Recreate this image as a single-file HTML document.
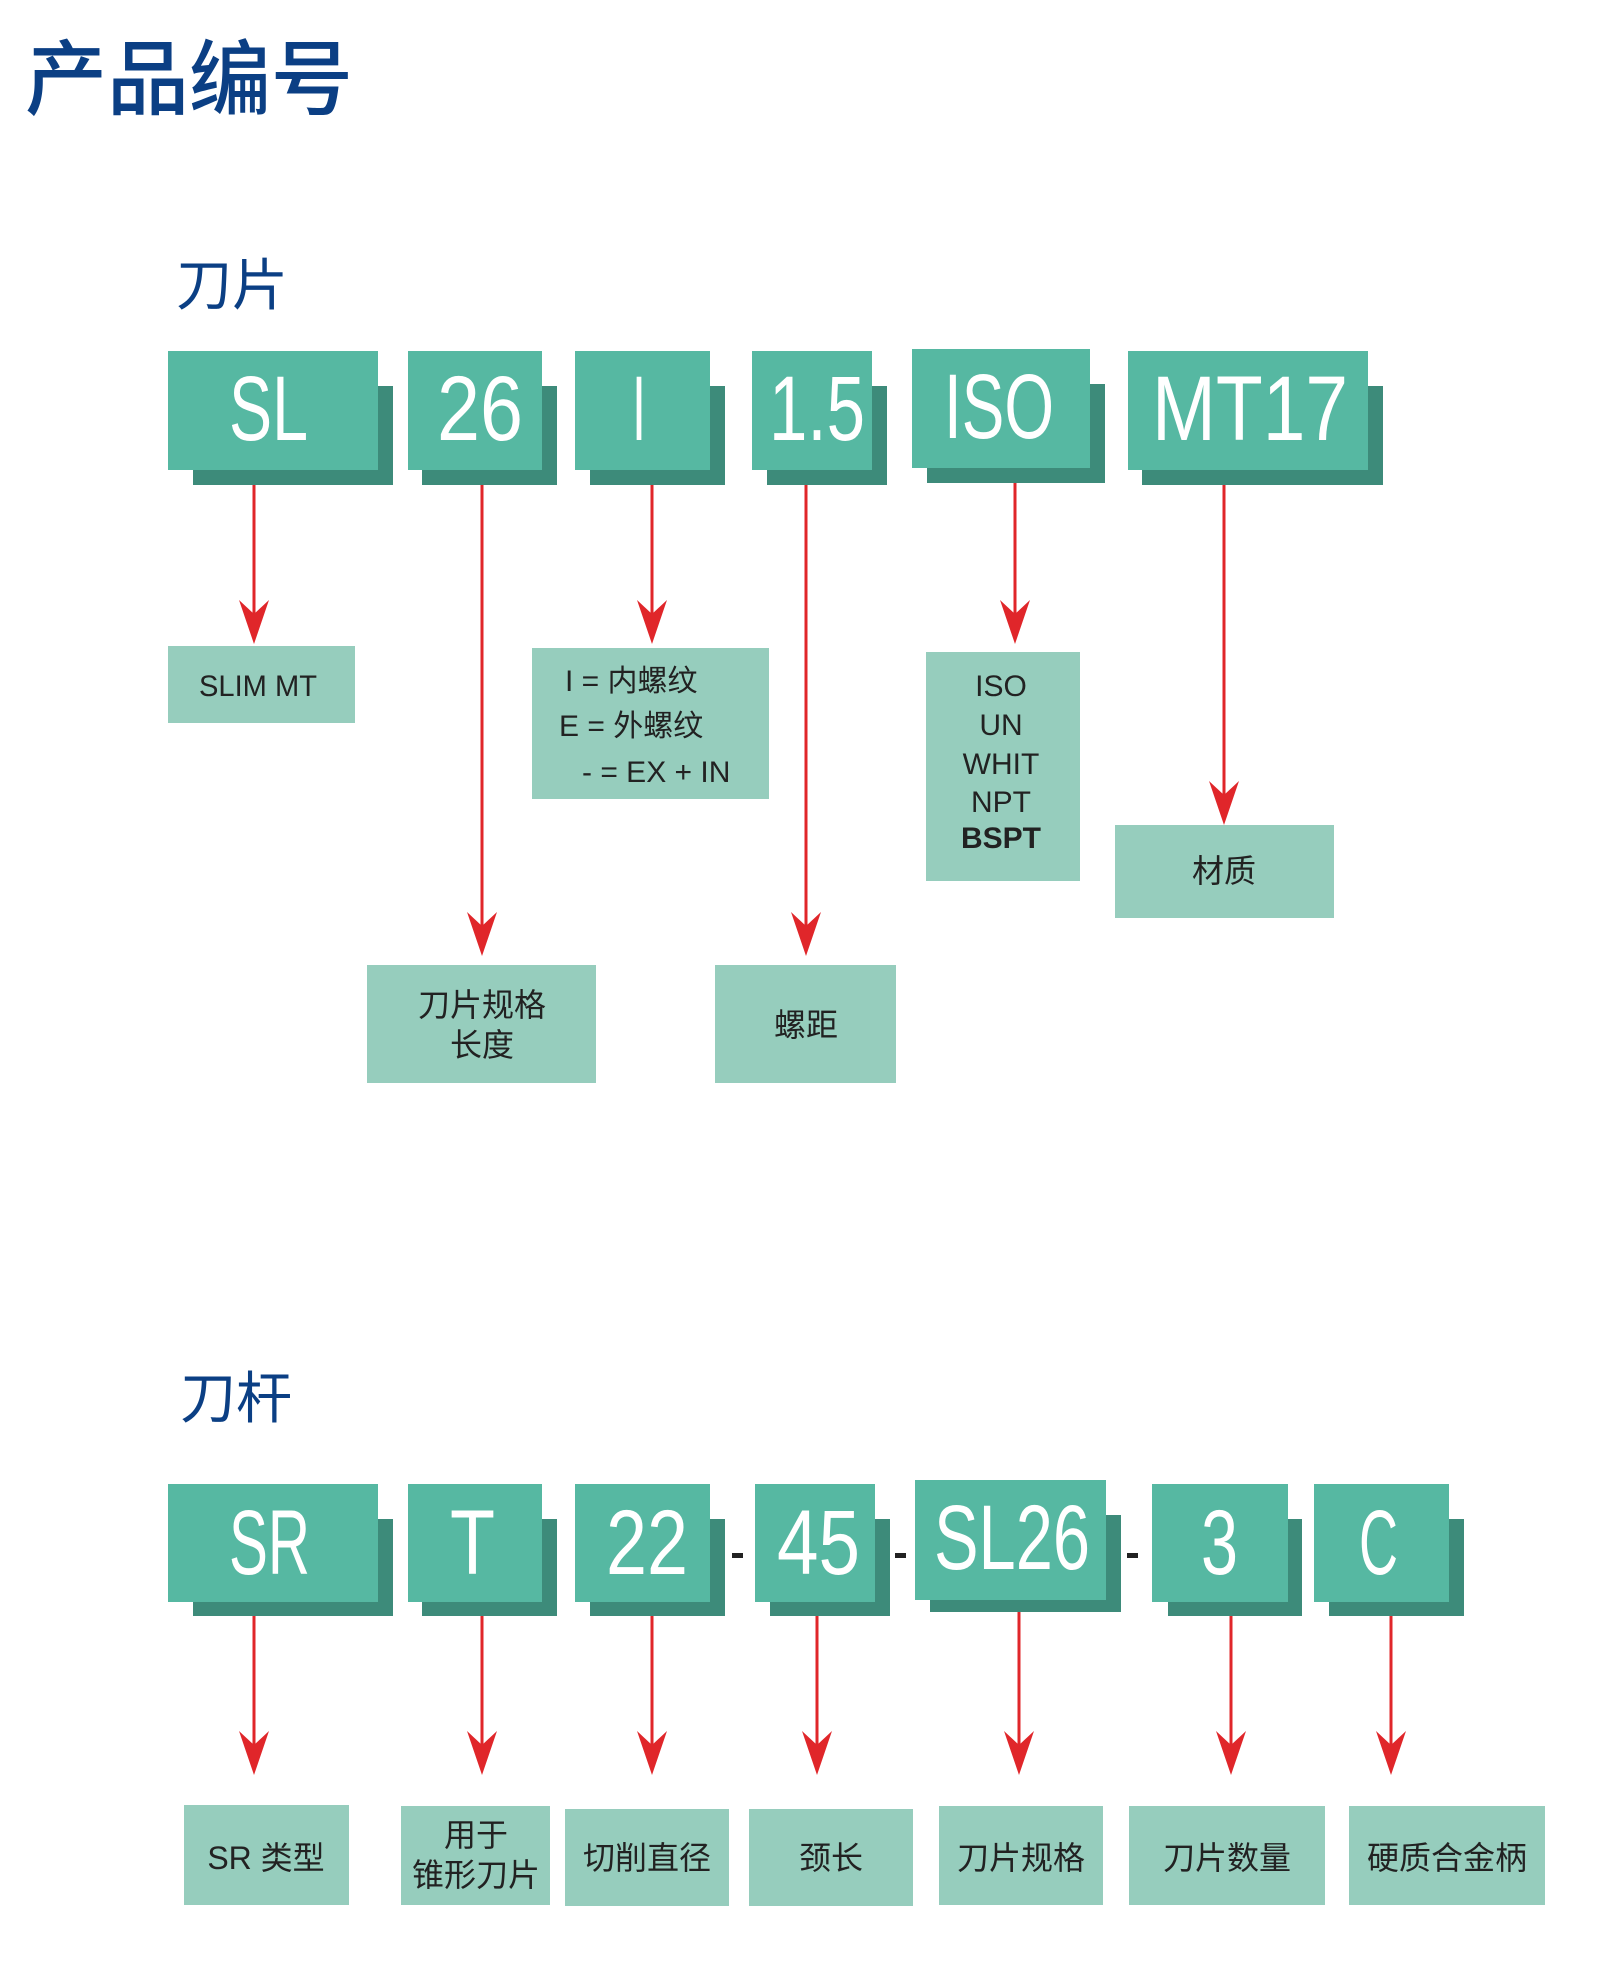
<!DOCTYPE html>
<html><head><meta charset="utf-8"><style>
html,body{margin:0;padding:0;background:#fff;}
svg{display:block}
.t{font-family:"Liberation Sans","Noto Sans CJK SC",sans-serif;}
.big{fill:#fff;font-size:92px;}
.lb{fill:#222;font-size:30px;}
.cn{fill:#222;font-size:32px;}
</style></head><body>
<svg width="1600" height="1963" viewBox="0 0 1600 1963" xmlns="http://www.w3.org/2000/svg" class="t">
<text x="25" y="108" font-size="82" fill="#0b3f84" font-family="Noto Sans CJK SC,sans-serif" font-weight="500">产品编号</text>
<text x="176" y="305" font-size="56" fill="#0b3f84" font-family="Noto Sans CJK SC,sans-serif">刀片</text>
<text x="180" y="1418" font-size="56" fill="#0b3f84" font-family="Noto Sans CJK SC,sans-serif">刀杆</text>

<g fill="#3d8b7a">
<rect x="193" y="386" width="200" height="99"/>
<rect x="422" y="386" width="135" height="99"/>
<rect x="590" y="386" width="135" height="99"/>
<rect x="767" y="386" width="120" height="99"/>
<rect x="927" y="384" width="178" height="99"/>
<rect x="1142" y="386" width="241" height="99"/>
<rect x="193" y="1519" width="200" height="97"/>
<rect x="422" y="1519" width="135" height="97"/>
<rect x="590" y="1519" width="135" height="97"/>
<rect x="770" y="1519" width="120" height="97"/>
<rect x="930" y="1515" width="191" height="97"/>
<rect x="1168" y="1519" width="134" height="97"/>
<rect x="1329" y="1519" width="135" height="97"/>
</g>
<g fill="#56b8a2">
<rect x="168" y="351" width="210" height="119"/>
<rect x="408" y="351" width="134" height="119"/>
<rect x="575" y="351" width="135" height="119"/>
<rect x="752" y="351" width="120" height="119"/>
<rect x="912" y="349" width="178" height="119"/>
<rect x="1128" y="351" width="240" height="119"/>
<rect x="168" y="1484" width="210" height="118"/>
<rect x="408" y="1484" width="134" height="118"/>
<rect x="575" y="1484" width="135" height="118"/>
<rect x="755" y="1484" width="120" height="118"/>
<rect x="915" y="1480" width="191" height="120"/>
<rect x="1152" y="1484" width="136" height="118"/>
<rect x="1314" y="1484" width="135" height="118"/>
</g>
<g class="big">
<text x="229" y="440" textLength="79" lengthAdjust="spacingAndGlyphs">SL</text>
<text x="437" y="440" textLength="86" lengthAdjust="spacingAndGlyphs">26</text>
<text x="632" y="440" textLength="14" lengthAdjust="spacingAndGlyphs">I</text>
<text x="769" y="440" textLength="96" lengthAdjust="spacingAndGlyphs">1.5</text>
<text x="944" y="438" textLength="110" lengthAdjust="spacingAndGlyphs">ISO</text>
<text x="1152" y="440" textLength="196" lengthAdjust="spacingAndGlyphs">MT17</text>
<text x="229" y="1574" textLength="81" lengthAdjust="spacingAndGlyphs">SR</text>
<text x="450" y="1574" textLength="45" lengthAdjust="spacingAndGlyphs">T</text>
<text x="606" y="1574" textLength="82" lengthAdjust="spacingAndGlyphs">22</text>
<text x="777" y="1574" textLength="83" lengthAdjust="spacingAndGlyphs">45</text>
<text x="934" y="1569" textLength="156" lengthAdjust="spacingAndGlyphs">SL26</text>
<text x="1201" y="1574" textLength="37" lengthAdjust="spacingAndGlyphs">3</text>
<text x="1359" y="1574" textLength="39" lengthAdjust="spacingAndGlyphs">C</text>
</g>
<g fill="#222">
<rect x="732" y="1553" width="11" height="5"/>
<rect x="895" y="1553" width="11" height="5"/>
<rect x="1127" y="1553" width="11" height="5"/>
</g>

<g stroke="#e0262a" stroke-width="3">
<line x1="254" y1="485" x2="254" y2="620"/>
<line x1="482" y1="485" x2="482" y2="930"/>
<line x1="652" y1="485" x2="652" y2="620"/>
<line x1="806" y1="485" x2="806" y2="930"/>
<line x1="1015" y1="483" x2="1015" y2="620"/>
<line x1="1224" y1="485" x2="1224" y2="800"/>
<line x1="254" y1="1616" x2="254" y2="1750"/>
<line x1="482" y1="1616" x2="482" y2="1750"/>
<line x1="652" y1="1616" x2="652" y2="1750"/>
<line x1="817" y1="1616" x2="817" y2="1750"/>
<line x1="1019" y1="1612" x2="1019" y2="1750"/>
<line x1="1231" y1="1616" x2="1231" y2="1750"/>
<line x1="1391" y1="1616" x2="1391" y2="1750"/>
</g>
<g fill="#e0262a">
<polygon points="254,644 239,600 254,614 269,600"/>
<polygon points="482,956 467,912 482,926 497,912"/>
<polygon points="652,644 637,600 652,614 667,600"/>
<polygon points="806,956 791,912 806,926 821,912"/>
<polygon points="1015,644 1000,600 1015,614 1030,600"/>
<polygon points="1224,825 1209,781 1224,795 1239,781"/>
<polygon points="254,1775 239,1731 254,1745 269,1731"/>
<polygon points="482,1775 467,1731 482,1745 497,1731"/>
<polygon points="652,1775 637,1731 652,1745 667,1731"/>
<polygon points="817,1775 802,1731 817,1745 832,1731"/>
<polygon points="1019,1775 1004,1731 1019,1745 1034,1731"/>
<polygon points="1231,1775 1216,1731 1231,1745 1246,1731"/>
<polygon points="1391,1775 1376,1731 1391,1745 1406,1731"/>
</g>

<g fill="#96cdbd">
<rect x="168" y="646" width="187" height="77"/>
<rect x="532" y="648" width="237" height="151"/>
<rect x="926" y="652" width="154" height="229"/>
<rect x="1115" y="825" width="219" height="93"/>
<rect x="367" y="965" width="229" height="118"/>
<rect x="715" y="965" width="181" height="118"/>
<rect x="184" y="1805" width="165" height="100"/>
<rect x="401" y="1806" width="149" height="99"/>
<rect x="565" y="1809" width="164" height="97"/>
<rect x="749" y="1809" width="164" height="97"/>
<rect x="939" y="1806" width="164" height="99"/>
<rect x="1129" y="1806" width="196" height="99"/>
<rect x="1349" y="1806" width="196" height="99"/>
</g>
<g class="lb">
<text x="199" y="696" textLength="118" lengthAdjust="spacingAndGlyphs">SLIM MT</text>
<text x="565" y="691">I = 内螺纹</text>
<text x="559" y="736">E = 外螺纹</text>
<text x="582" y="782">- = EX + IN</text>
<g text-anchor="middle">
<text x="1001" y="696">ISO</text>
<text x="1001" y="735">UN</text>
<text x="1001" y="774">WHIT</text>
<text x="1001" y="812">NPT</text>
<text x="1001" y="848" font-weight="bold">BSPT</text>
</g>
</g>
<g class="cn" text-anchor="middle">
<text x="1224" y="882">材质</text>
<text x="482" y="1016">刀片规格</text>
<text x="482" y="1056">长度</text>
<text x="806" y="1036">螺距</text>
<text x="266" y="1869">SR 类型</text>
<text x="476" y="1846">用于</text>
<text x="476" y="1886">锥形刀片</text>
<text x="647" y="1869">切削直径</text>
<text x="831" y="1869">颈长</text>
<text x="1021" y="1869">刀片规格</text>
<text x="1227" y="1869">刀片数量</text>
<text x="1447" y="1869">硬质合金柄</text>
</g>
</svg>
</body></html>
